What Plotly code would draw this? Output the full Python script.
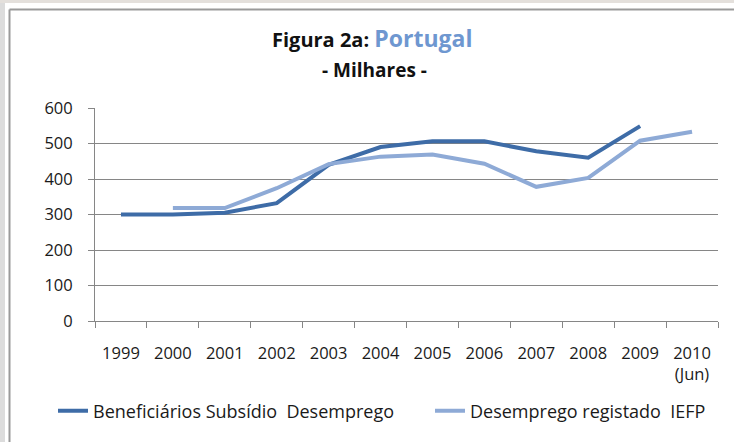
import plotly.graph_objects as go

years = ["1999", "2000", "2001", "2002", "2003", "2004", "2005", "2006", "2007", "2008", "2009", "2010"]
year_labels = ["1999", "2000", "2001", "2002", "2003", "2004", "2005", "2006", "2007", "2008", "2009", "2010<br>(Jun)"]
beneficiarios = [300, 300, 305, 332, 440, 490, 506, 506, 478, 460, 549, None]
iefp = [None, 318, 318, 374, 442, 463, 469, 443, 378, 403, 508, 533]

W, H = 734, 442
L, R, T, B = 95, 718, 108, 321

def px(x):
    return (x - L) / (R - L)

def py(y):
    return (B - y) / (B - T)

fig = go.Figure()
fig.add_trace(go.Scatter(x=years, y=beneficiarios, mode="lines", name="Beneficiários Subsídio  Desemprego",
                         line=dict(color="#3e6ca7", width=4), legend="legend"))
fig.add_trace(go.Scatter(x=years, y=iefp, mode="lines", name="Desemprego registado  IEFP",
                         line=dict(color="#8eaad6", width=4), legend="legend2"))

legend_common = dict(orientation="h", xref="container", yref="container", y=1 - 411 / H,
                     xanchor="left", yanchor="middle", font=dict(size=18, color="#1a1a1a"),
                     itemwidth=30, bgcolor="rgba(0,0,0,0)")

font_family = "Open Sans"
fig.update_layout(
    width=W, height=H,
    margin=dict(l=L, r=W - R, t=T, b=H - B, autoexpand=False),
    paper_bgcolor="white", plot_bgcolor="white",
    font=dict(family=font_family, size=16, color="#1a1a1a"),
    showlegend=True,
    legend=dict(x=53 / W, **legend_common),
    legend2=dict(x=430 / W, **legend_common),
    xaxis=dict(type="category", categoryorder="array", categoryarray=years,
               tickvals=years, ticktext=year_labels, range=[-0.5, 11.5],
               showgrid=False, showline=True, linecolor="#868686", linewidth=1,
               ticks="outside", tickson="boundaries", ticklen=6, tickcolor="#868686",
               ticklabelstandoff=17, tickfont=dict(size=16.5), automargin=False),
    yaxis=dict(range=[0, 600], tickvals=[0, 100, 200, 300, 400, 500, 600],
               showgrid=True, gridcolor="#868686", gridwidth=1, zeroline=False,
               showline=True, linecolor="#868686", linewidth=1,
               ticks="outside", ticklen=6, tickcolor="#868686",
               ticklabelstandoff=12, tickfont=dict(size=16.5), automargin=False),
    shapes=[
        dict(type="rect", xref="paper", yref="paper", x0=px(0), x1=px(5), y0=py(H), y1=py(0),
             fillcolor="#dcdcdc", line=dict(width=0), layer="below"),
        dict(type="rect", xref="paper", yref="paper", x0=px(0), x1=px(W), y0=py(3), y1=py(0),
             fillcolor="#e4e0dc", line=dict(width=0), layer="below"),
        dict(type="line", xref="paper", yref="paper", x0=px(9.5), x1=px(9.5), y0=py(9.5), y1=py(H),
             line=dict(color="#9a9a9a", width=2)),
        dict(type="line", xref="paper", yref="paper", x0=px(9.5), x1=px(W), y0=py(9.5), y1=py(9.5),
             line=dict(color="#9a9a9a", width=2)),
    ],
    annotations=[
        dict(text="<b>Figura 2a: <span style='color:#6e97d0;font-size:23px'>Portugal</span></b>",
             xref="paper", yref="paper", x=px(372), y=py(38), xanchor="center", yanchor="middle",
             showarrow=False, font=dict(size=20, color="#111111")),
        dict(text="<b>- Milhares -</b>", xref="paper", yref="paper", x=px(374), y=py(70),
             xanchor="center", yanchor="middle", showarrow=False, font=dict(size=19, color="#111111")),
    ],
)

fig.write_html("out.html", config={"displayModeBar": False},
               post_script="document.body.style.margin='0px';")
